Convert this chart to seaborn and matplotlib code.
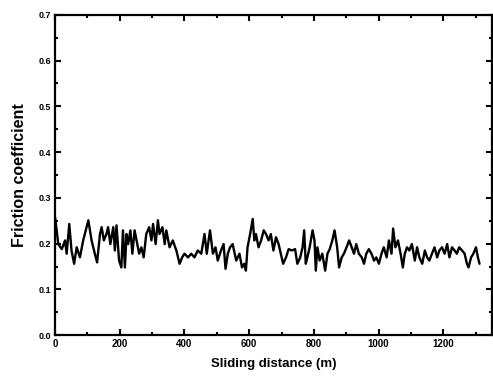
import matplotlib
matplotlib.use("Agg")
import matplotlib.pyplot as plt
import seaborn as sns
import pandas as pd
from matplotlib.ticker import MultipleLocator

distance = [0, 5, 10, 21, 31, 36, 44, 51, 59, 67, 77, 87, 95, 103, 113, 123, 130, 139, 144,
            151, 159, 164, 171, 180, 185, 190, 198, 205, 210, 216, 221, 226, 233, 239, 246,
            252, 260, 267, 274, 282, 291, 298, 303, 311, 318, 323, 332, 339, 344, 354, 364,
            375, 385, 393, 400, 411, 421, 431, 441, 452, 462, 469, 479, 488, 496, 503, 513,
            521, 527, 534, 541, 549, 560, 570, 578, 585, 590, 595, 603, 611, 616, 621, 629,
            637, 645, 652, 660, 667, 675, 683, 691, 698, 705, 714, 722, 732, 742, 749, 758,
            765, 770, 775, 780, 787, 796, 802, 806, 811, 818, 826, 835, 842, 849, 857, 864,
            872, 878, 886, 893, 901, 909, 917, 924, 931, 939, 948, 955, 962, 970, 978, 986,
            993, 1001, 1009, 1016, 1025, 1032, 1040, 1045, 1052, 1060, 1068, 1075, 1081,
            1088, 1095, 1103, 1112, 1119, 1126, 1135, 1143, 1150, 1157, 1165, 1173, 1181,
            1188, 1196, 1204, 1212, 1219, 1227, 1235, 1242, 1249, 1258, 1266, 1273, 1278,
            1286, 1293, 1301, 1307, 1312]
friction = [0.258, 0.230, 0.199, 0.188, 0.207, 0.178, 0.243, 0.185, 0.156, 0.192, 0.170,
            0.207, 0.229, 0.251, 0.207, 0.178, 0.159, 0.221, 0.236, 0.207, 0.221, 0.236,
            0.199, 0.236, 0.185, 0.240, 0.163, 0.148, 0.229, 0.148, 0.221, 0.199, 0.229,
            0.178, 0.229, 0.207, 0.178, 0.192, 0.170, 0.221, 0.236, 0.207, 0.243, 0.199,
            0.251, 0.221, 0.236, 0.199, 0.229, 0.192, 0.207, 0.185, 0.156, 0.170, 0.178,
            0.170, 0.178, 0.170, 0.185, 0.178, 0.221, 0.178, 0.229, 0.178, 0.192, 0.163,
            0.185, 0.199, 0.145, 0.178, 0.192, 0.199, 0.163, 0.178, 0.148, 0.156, 0.141,
            0.192, 0.221, 0.254, 0.207, 0.221, 0.192, 0.207, 0.229, 0.221, 0.207, 0.221,
            0.185, 0.214, 0.199, 0.178, 0.156, 0.170, 0.188, 0.185, 0.188, 0.156, 0.170,
            0.192, 0.229, 0.156, 0.170, 0.192, 0.229, 0.207, 0.141, 0.192, 0.163, 0.178,
            0.141, 0.178, 0.188, 0.207, 0.229, 0.192, 0.148, 0.170, 0.178, 0.192, 0.207,
            0.192, 0.178, 0.199, 0.178, 0.170, 0.156, 0.178, 0.188, 0.178, 0.163, 0.170,
            0.156, 0.178, 0.192, 0.170, 0.207, 0.178, 0.233, 0.192, 0.207, 0.178, 0.148,
            0.178, 0.192, 0.185, 0.199, 0.163, 0.192, 0.170, 0.156, 0.185, 0.170, 0.163,
            0.178, 0.192, 0.170, 0.185, 0.192, 0.178, 0.199, 0.170, 0.192, 0.185, 0.178,
            0.192, 0.185, 0.178, 0.156, 0.148, 0.170, 0.178, 0.192, 0.170, 0.156]

x_ticks = [0, 200, 400, 600, 800, 1000, 1200]
y_ticks = [0.0, 0.1, 0.2, 0.3, 0.4, 0.5, 0.6, 0.7]

df = pd.DataFrame({"Sliding distance (m)": distance, "Friction coefficient": friction})

sns.set_theme(style="ticks")
plt.rcParams["font.family"] = ["Liberation Sans", "DejaVu Sans"]
plt.rcParams.update({"text.color": "black", "axes.labelcolor": "black",
                     "xtick.color": "black", "ytick.color": "black"})

fig = plt.figure(figsize=(4.93, 3.80), dpi=100)
ax = fig.add_axes([0.1116, 0.118, 0.886, 0.843])

sns.lineplot(data=df, x="Sliding distance (m)", y="Friction coefficient",
             ax=ax, color="black", linewidth=1.7, estimator=None, sort=False)

ax.set_xlim(0, 1350)
ax.set_ylim(0.0, 0.7)
ax.set_xticks(x_ticks)
ax.set_yticks(y_ticks)
ax.set_xticklabels([str(t) for t in x_ticks], fontsize=7, fontweight="bold")
ax.set_yticklabels([f"{t:.1f}" for t in y_ticks], fontsize=6.5, fontweight="bold")
ax.xaxis.set_minor_locator(MultipleLocator(100))
ax.yaxis.set_minor_locator(MultipleLocator(0.05))
ax.tick_params(which="both", direction="in", top=True, right=True, width=1.5,
               color="black", labelcolor="black")
ax.tick_params(which="major", length=4, pad=3)
ax.tick_params(which="minor", length=2.5)
for s in ax.spines.values():
    s.set_linewidth(1.6)
    s.set_color("black")

ax.set_xlabel("Sliding distance (m)", fontsize=9.5, fontweight="bold", labelpad=6, color="black")
ax.set_ylabel("Friction coefficient", fontsize=11.5, fontweight="bold", labelpad=8, color="black")

fig.savefig("out.png", dpi=100)
